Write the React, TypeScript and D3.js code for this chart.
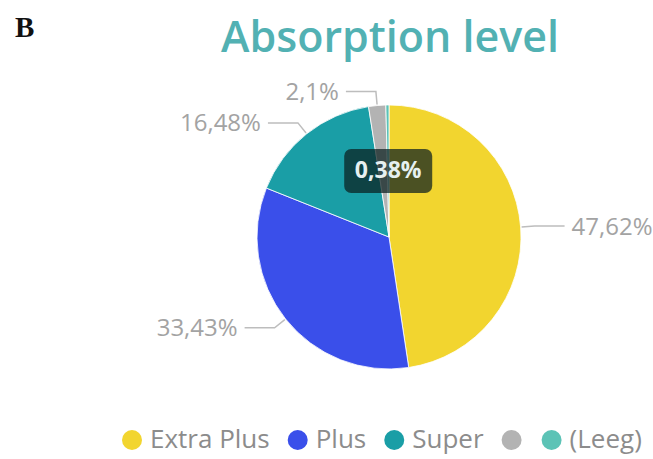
import React, { useEffect, useRef } from "react";
import * as d3 from "d3";

const categories = ["Extra Plus", "Plus", "Super", "", "(Leeg)"];
const values = [47.62, 33.43, 16.48, 2.1, 0.38];
const valueLabels = ["47,62%", "33,43%", "16,48%", "2,1%", "0,38%"];
const colors = ["#F2D52F", "#3A4FEA", "#1A9EA6", "#B3B3B3", "#5CC3B6"];
const title = "Absorption level";
const panelLetter = "B";

const W = 653;
const H = 459;

export default function App() {
  const ref = useRef<SVGSVGElement | null>(null);

  useEffect(() => {
    const svg = d3.select(ref.current);
    svg.selectAll("*").remove();

    const font = "'Open Sans', 'Noto Sans', sans-serif";
    const cx = 389, cy = 237, r = 132;

    svg.append("text")
      .attr("x", 15).attr("y", 37)
      .attr("font-family", "'Liberation Serif', 'DejaVu Serif', serif")
      .attr("font-weight", "bold").attr("font-size", 29)
      .attr("fill", "#111").text(panelLetter);

    svg.append("text")
      .attr("x", cx + 1).attr("y", 52)
      .attr("text-anchor", "middle")
      .attr("font-family", font).attr("font-size", 43).attr("font-weight", 600)
      .attr("fill", "#52B1B3").text(title);

    const data = categories.map((c, i) => ({ c, v: values[i], label: valueLabels[i], color: colors[i], i }));
    const pie = d3.pie<any>().value((d: any) => d.v).sort(null);
    const arcs = pie(data);
    const arc = d3.arc<any>().innerRadius(0).outerRadius(r);

    const g = svg.append("g").attr("transform", `translate(${cx},${cy})`);
    g.selectAll("path.slice").data(arcs).enter().append("path")
      .attr("d", arc as any)
      .attr("fill", (d: any) => d.data.color)
      .attr("stroke", "#ffffff").attr("stroke-width", 0.8);

    // outside labels
    const elbow = 14, hlen = 30, gap = 7;
    arcs.forEach((a: any, idx: number) => {
      if (idx === 4) return;
      const mid = (a.startAngle + a.endAngle) / 2;
      const s = Math.sin(mid), c = -Math.cos(mid);
      const p1 = [s * (r + 1), c * (r + 1)];
      const p2 = [s * (r + elbow), c * (r + elbow)];
      const right = s > 0;
      const p3 = [p2[0] + (right ? hlen : -hlen), p2[1]];
      g.append("path")
        .attr("d", `M${p1[0]},${p1[1]}L${p2[0]},${p2[1]}L${p3[0]},${p3[1]}`)
        .attr("fill", "none").attr("stroke", "#bdbdbd").attr("stroke-width", 1.5);
      g.append("text")
        .attr("x", p3[0] + (right ? gap : -gap)).attr("y", p3[1] + 2)
        .attr("text-anchor", right ? "start" : "end")
        .attr("dominant-baseline", "middle")
        .attr("font-family", font).attr("font-size", 24)
        .attr("fill", "#a3a3a3").text(a.data.label);
    });

    // inside label for (Leeg)
    const la: any = arcs[4];
    const lm = (la.startAngle + la.endAngle) / 2;
    const lx = Math.sin(lm) * r * 0.5, ly = -Math.cos(lm) * r * 0.5;
    const bw = 88, bh = 44;
    g.append("rect")
      .attr("x", lx - bw / 2).attr("y", ly - bh / 2)
      .attr("width", bw).attr("height", bh).attr("rx", 7)
      .attr("fill", "#0a1e1e").attr("fill-opacity", 0.72);
    g.append("text")
      .attr("x", lx).attr("y", ly + 1)
      .attr("text-anchor", "middle").attr("dominant-baseline", "middle")
      .attr("font-family", font).attr("font-weight", "bold").attr("font-size", 23)
      .attr("fill", "#e6f0f0").text(la.data.label);

    // legend
    const lg = svg.append("g");
    let x = 122;
    const legY = 440, dotR = 10;
    data.forEach((d) => {
      lg.append("circle").attr("cx", x + dotR).attr("cy", legY).attr("r", dotR).attr("fill", d.color);
      const t = lg.append("text")
        .attr("x", x + dotR + 18).attr("y", legY + 1)
        .attr("dominant-baseline", "middle")
        .attr("font-family", font).attr("font-size", 26)
        .attr("fill", "#8c8c8c").text(d.c);
      const tw = d.c ? (t.node() as SVGTextElement).getComputedTextLength() : 0;
      x = x + dotR + 18 + tw + (d.c ? 28 : 22) - dotR;
    });
  }, []);

  return (
    <svg ref={ref} width={W} height={H}
      style={{ position: "absolute", left: 0, top: 0, background: "#fff" }} />
  );
}
